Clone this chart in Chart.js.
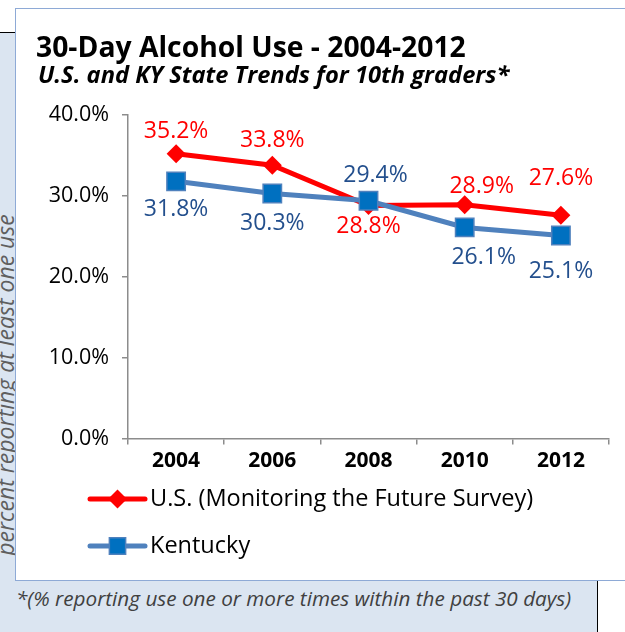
<!DOCTYPE html>
<html><head><meta charset="utf-8">
<script src="https://cdn.jsdelivr.net/npm/chart.js@4.4.0/dist/chart.umd.min.js"></script>
<style>
html,body{margin:0;padding:0;}
body{width:625px;height:632px;position:relative;overflow:hidden;background:#fff;font-family:'Open Sans',sans-serif;}
#panel{position:absolute;left:0;top:33px;width:597px;height:599px;background:#dbe5f1;}
#hline{position:absolute;left:0;top:32px;width:16px;height:1px;background:#000;}
#vline{position:absolute;left:597px;top:580px;width:1px;height:52px;background:#000;}
#ytitle{position:absolute;left:5px;top:385px;transform:translate(-50%,-50%) rotate(-90deg);white-space:nowrap;font-style:italic;font-size:23px;line-height:26px;color:#5f5f5f;}
#box{position:absolute;left:15px;top:8px;width:640px;height:571px;background:#fff;border:1px solid #8eaad6;border-right:none;}
#title{position:absolute;left:36px;top:29px;font-weight:bold;font-size:28.3px;line-height:34px;color:#000;white-space:nowrap;}
#subtitle{position:absolute;left:38px;top:60px;font-weight:bold;font-style:italic;font-size:23.7px;line-height:28px;color:#000;white-space:nowrap;}
#foot{position:absolute;left:16px;top:585px;font-style:italic;font-size:20.7px;line-height:26px;color:#404040;white-space:nowrap;}
#c{position:absolute;left:16px;top:9px;}
</style>
</head><body>
<div id="panel"></div>
<div id="hline"></div>
<div id="vline"></div>
<div id="ytitle">percent reporting at least one use</div>
<div id="box"></div>
<canvas id="c" width="609" height="570"></canvas>
<div id="title">30-Day Alcohol Use - 2004-2012</div>
<div id="subtitle">U.S. and KY State Trends for 10th graders*</div>
<div id="foot">*(% reporting use one or more times within the past 30 days)</div>
<script>
// ---- data ----
const years = ['2004', '2006', '2008', '2010', '2012'];
const usValues = [35.2, 33.8, 28.8, 28.9, 27.6];
const kyValues = [31.8, 30.3, 29.4, 26.1, 25.1];
const usLabel = 'U.S. (Monitoring the Future Survey)';
const kyLabel = 'Kentucky';
const yTicks = [0, 10, 20, 30, 40];

// ---- styling (label offsets relative to points) ----
const usLabelOffsets = [[0,-22],[0,-25],[0,21],[17,-18],[0,-37]];
const kyLabelOffsets = [[0,28],[0,30],[7,-25],[19,30],[0,36]];

const FONT = "'Open Sans', sans-serif";

const labelPlugin = {
  id: 'pointLabels',
  afterDatasetsDraw(chart) {
    const ctx = chart.ctx;
    ctx.save();
    ctx.font = "23px " + FONT;
    ctx.textAlign = 'center';
    ctx.textBaseline = 'middle';
    chart.data.datasets.forEach((ds, i) => {
      const meta = chart.getDatasetMeta(i);
      ctx.fillStyle = ds.labelColor;
      meta.data.forEach((pt, j) => {
        const off = ds.labelOffsets[j];
        ctx.fillText(ds.data[j].toFixed(1) + '%', pt.x + off[0], pt.y + off[1]);
      });
    });
    ctx.restore();
  }
};

const legendPlugin = {
  id: 'vLegend',
  afterDraw(chart) {
    const ctx = chart.ctx;
    const order = [1, 0];
    const x0 = 74, x1 = 129, tx = 134;
    const ys = [490, 537];
    ctx.save();
    order.forEach((di, k) => {
      const ds = chart.data.datasets[di];
      const y = ys[k];
      ctx.strokeStyle = ds.borderColor;
      ctx.lineWidth = ds.borderWidth;
      ctx.lineCap = 'round';
      ctx.beginPath(); ctx.moveTo(x0, y); ctx.lineTo(x1, y); ctx.stroke();
      const r = ds.legendRadius;
      const cx = (x0 + x1) / 2;
      ctx.fillStyle = ds.pointBackgroundColor;
      ctx.strokeStyle = ds.pointBorderColor;
      ctx.lineWidth = ds.pointBorderWidth;
      ctx.beginPath();
      if (ds.pointStyle === 'rectRot') {
        ctx.moveTo(cx, y - r); ctx.lineTo(cx + r, y); ctx.lineTo(cx, y + r); ctx.lineTo(cx - r, y); ctx.closePath();
      } else {
        const s = Math.SQRT1_2 * r;
        ctx.rect(cx - s, y - s, 2 * s, 2 * s);
      }
      ctx.fill();
      if (ds.pointBorderWidth) ctx.stroke();
      ctx.fillStyle = '#000';
      ctx.font = "23.5px " + FONT;
      ctx.textAlign = 'left';
      ctx.textBaseline = 'middle';
      ctx.fillText(ds.label, tx, y);
    });
    ctx.restore();
  }
};

new Chart(document.getElementById('c'), {
  type: 'line',
  data: {
    labels: years,
    datasets: [
      {
        label: kyLabel, data: kyValues, order: 0,
        borderColor: '#4f81bd', borderWidth: 5,
        pointStyle: 'rect', pointRadius: 13, pointHoverRadius: 13, legendRadius: 11.5,
        pointBackgroundColor: '#0070c0', pointBorderColor: '#4f81bd', pointBorderWidth: 1.5,
        labelColor: '#234f8d', labelOffsets: kyLabelOffsets, tension: 0
      },
      {
        label: usLabel, data: usValues, order: 1,
        borderColor: '#ff0000', borderWidth: 5,
        pointStyle: 'rectRot', pointRadius: 9.5, pointHoverRadius: 9.5, legendRadius: 9.5,
        pointBackgroundColor: '#ff0000', pointBorderColor: '#ff0000', pointBorderWidth: 0,
        labelColor: '#ff0000', labelOffsets: usLabelOffsets, tension: 0
      }
    ]
  },
  options: {
    responsive: false,
    animation: false,
    devicePixelRatio: 1,
    layout: { padding: { left: 0, top: 106, right: 16, bottom: 110.5 } },
    plugins: { legend: { display: false }, tooltip: { enabled: false }, title: { display: false } },
    scales: {
      x: {
        offset: true,
        grid: { offset: true, drawOnChartArea: false, drawTicks: true, tickLength: 6, color: '#8c8c8c', lineWidth: 1.5 },
        border: { color: '#8c8c8c', width: 1.5 },
        ticks: { color: '#000', font: { family: FONT, size: 21, weight: 'bold' }, padding: 4, maxRotation: 0 },
        afterFit(s) { s.height = 30; }
      },
      y: {
        min: 0, max: 40,
        afterBuildTicks(s) { s.ticks = yTicks.map(v => ({ value: v })); },
        grid: { drawOnChartArea: false, drawTicks: true, tickLength: 6, color: '#8c8c8c', lineWidth: 1.5 },
        border: { color: '#8c8c8c', width: 1.5 },
        ticks: { color: '#000', font: { family: FONT, size: 21.5 }, padding: 13,
          callback: v => v.toFixed(1) + '%' },
        afterFit(s) { s.width = 112; }
      }
    }
  },
  plugins: [labelPlugin, legendPlugin]
});
</script>
</body></html>
